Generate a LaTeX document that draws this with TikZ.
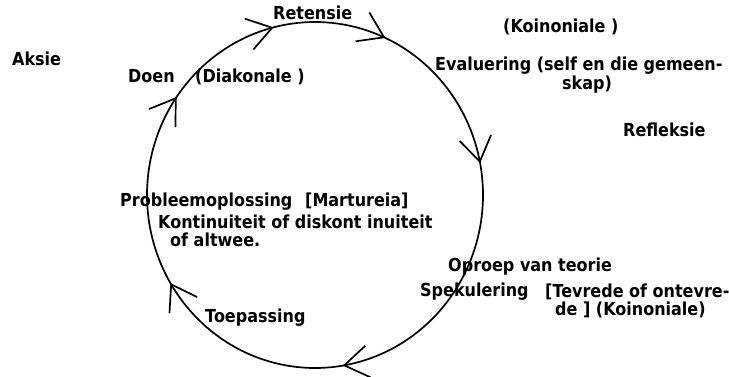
\documentclass[tikz,border=0pt]{standalone}
\usepackage{fontspec}
\setmainfont{DejaVu Sans}
\usetikzlibrary{arrows.meta,decorations.markings}
\tikzset{mybarb/.tip={Straight Barb[length=24pt,width=32pt,line width=1.7pt]}}
\newcommand{\tall}[1]{\scalebox{1}[1.12]{#1}}
\begin{document}
\begin{tikzpicture}[x=1pt,y=-1pt,
  lbl/.style={anchor=base west,inner sep=0pt,font=\fontsize{16}{16}\selectfont\bfseries},
  cyclepath/.style={line width=1.7pt,postaction={decorate},
    decoration={markings,
      mark=at position 0.224 with {\arrow{mybarb}},
      mark=at position 0.414 with {\arrow{mybarb}},
      mark=at position 0.597 with {\arrow{mybarb}},
      mark=at position 0.711 with {\arrow{mybarb}},
      mark=at position 0.818 with {\arrow{mybarb}},
      mark=at position 0.970 with {\arrow{mybarb}}}}]
\useasboundingbox (0,0) rectangle (729,377);
% cycle
\draw[cyclepath] plot[domain=0:358,samples=180] ({315+168*cos(\x)},{195+173*sin(\x)}) -- cycle;
% labels
\node[lbl] (aksie) at (12,66) {\tall{Aksie}};
\node[lbl] (doen) at (128,83) {\tall{Doen}};
\node[lbl] (diak) at (195,83) {\tall{(Diakonale )}};
\node[lbl] (ret) at (273,20) {\tall{Retensie}};
\node[lbl] (koin1) at (503,33) {\tall{(Koinoniale )}};
\node[lbl] (eval) at (435,71) {\tall{Evaluering (self en die gemeen-}};
\node[lbl] (skap) at (562,90) {\tall{skap)}};
\node[lbl] (refl) at (623,137) {\tall{Refleksie}};
\node[lbl] (prob) at (120,207) {\tall{Probleemoplossing}};
\node[lbl] (mart) at (305,207) {\tall{[Martureia]}};
\node[lbl] (kont) at (158,229) {\tall{Kontinuiteit of diskont inuiteit}};
\node[lbl] (altw) at (170,247) {\tall{of altwee.}};
\node[lbl] (toep) at (205,322) {\tall{Toepassing}};
\node[lbl] (opr) at (448,272) {\tall{Oproep van teorie}};
\node[lbl] (spek) at (420,296) {\tall{Spekulering}};
\node[lbl] (tevr) at (545,297) {\tall{[Tevrede of ontevre-}};
\node[lbl] (dekoin) at (555,315) {\tall{de ] (Koinoniale)}};
\end{tikzpicture}
\end{document}
